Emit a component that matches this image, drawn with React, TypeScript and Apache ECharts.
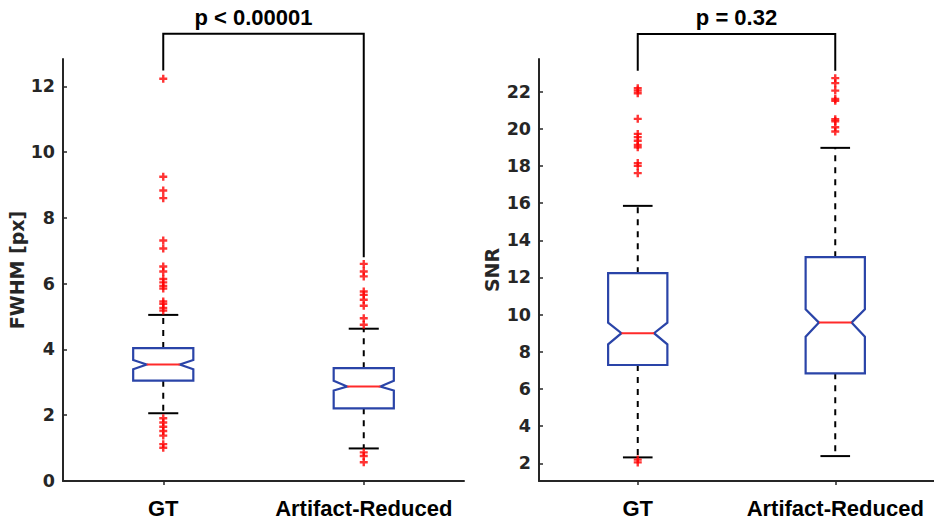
import React, { useEffect, useRef } from "react";
import * as echarts from "echarts";

const categories = ["GT", "Artifact-Reduced"];

// [lowerWhisker, q1, notchLow, median, notchHigh, q3, upperWhisker]
const fwhmBoxes = [
  [2.06, 3.05, 3.4, 3.54, 3.68, 4.04, 5.05],
  [0.99, 2.21, 2.75, 2.87, 3.05, 3.43, 4.63],
];
const snrBoxes = [
  [2.32, 7.29, 8.4, 9.0, 9.57, 12.23, 15.85],
  [2.39, 6.84, 8.81, 9.57, 10.29, 13.09, 18.97],
];

const fwhmOutliersGT = [12.23, 9.25, 8.83, 8.6, 7.31, 7.07, 6.52, 6.37, 6.14, 6.04, 5.93, 5.85, 5.46, 5.39, 5.26, 5.18, 1.91, 1.78, 1.65, 1.52, 1.38, 1.12, 1.01];
const fwhmOutliersAR = [6.6, 6.37, 6.22, 5.76, 5.66, 5.51, 5.33, 4.95, 4.75, 0.87, 0.76, 0.57];
const snrOutliersGT = [22.18, 22.05, 21.91, 20.53, 19.72, 19.55, 19.35, 19.13, 19.0, 18.15, 18.0, 17.61, 2.2, 2.05];
const snrOutliersAR = [22.72, 22.45, 22.05, 21.6, 21.5, 20.51, 20.4, 20.08, 19.85];

const fwhmTicks = [0, 2, 4, 6, 8, 10, 12];
const snrTicks = [2, 4, 6, 8, 10, 12, 14, 16, 18, 20, 22];

// bracket: [yTop, yLeftEnd, yRightEnd, textPosition(0..1 between categories)]
const fwhmBracket = [13.6, 12.48, 6.8, 0.45];
const snrBracket = [25.1, 23.12, 23.12, 0.5];
const fwhmPText = "p < 0.00001";
const snrPText = "p = 0.32";

const AXIS_COLOR = "#262626";
const BOX_COLOR = "#2a44a8";
const MED_COLOR = "#ff2a2a";
const PLUS = "path://M3.5,0L6.5,0L6.5,3.5L10,3.5L10,6.5L6.5,6.5L6.5,10L3.5,10L3.5,6.5L0,6.5L0,3.5L3.5,3.5Z";

function boxRender(params: any, api: any) {
  const x = api.value(0);
  const lw = api.value(1), q1 = api.value(2), nl = api.value(3), md = api.value(4), nh = api.value(5), q3 = api.value(6), uw = api.value(7);
  const band = api.size([1, 0])[0];
  const hw = band * 0.15;
  const cw = band * 0.075;
  const ind = hw * 0.45;
  const p = (v: number) => api.coord([x, v]);
  const cx = p(md)[0];
  const yLW = p(lw)[1], yQ1 = p(q1)[1], yNL = p(nl)[1], yMD = p(md)[1], yNH = p(nh)[1], yQ3 = p(q3)[1], yUW = p(uw)[1];
  const l = cx - hw, r = cx + hw;
  return {
    type: "group",
    children: [
      { type: "line", shape: { x1: cx, y1: yQ3, x2: cx, y2: yUW }, style: { stroke: "#000", lineWidth: 2, lineDash: [6, 6] } },
      { type: "line", shape: { x1: cx, y1: yQ1, x2: cx, y2: yLW }, style: { stroke: "#000", lineWidth: 2, lineDash: [6, 6] } },
      { type: "line", shape: { x1: cx - cw, y1: yUW, x2: cx + cw, y2: yUW }, style: { stroke: "#000", lineWidth: 2 } },
      { type: "line", shape: { x1: cx - cw, y1: yLW, x2: cx + cw, y2: yLW }, style: { stroke: "#000", lineWidth: 2 } },
      {
        type: "polygon",
        shape: {
          points: [
            [l, yQ3], [r, yQ3], [r, yNH], [r - ind, yMD], [r, yNL], [r, yQ1],
            [l, yQ1], [l, yNL], [l + ind, yMD], [l, yNH],
          ],
        },
        style: { fill: "#fff", stroke: BOX_COLOR, lineWidth: 2.2 },
      },
      { type: "line", shape: { x1: l + ind, y1: yMD, x2: r - ind, y2: yMD }, style: { stroke: MED_COLOR, lineWidth: 2 } },
    ],
  };
}

function bracketRender(text: string) {
  return (params: any, api: any) => {
    const yTop = api.value(0), yL = api.value(1), yR = api.value(2), tp = api.value(3);
    const a = api.coord([0, yTop]);
    const b = api.coord([1, yTop]);
    const aEnd = api.coord([0, yL]);
    const bEnd = api.coord([1, yR]);
    return {
      type: "group",
      children: [
        {
          type: "polyline",
          shape: { points: [[aEnd[0], aEnd[1]], [a[0], a[1]], [b[0], b[1]], [bEnd[0], bEnd[1]]] },
          style: { stroke: "#000", lineWidth: 2, fill: null },
        },
        {
          type: "text",
          x: a[0] + (b[0] - a[0]) * tp,
          y: a[1] - 5,
          style: {
            text,
            fill: "#000",
            font: "bold 22px 'Liberation Sans', Arial, sans-serif",
            align: "center",
            verticalAlign: "bottom",
          },
        },
      ],
    };
  };
}

function yAxisCfg(name: string, min: number, max: number, ticks: number[], gi: number, gap: number) {
  return {
    type: "value",
    gridIndex: gi,
    min,
    max,
    name,
    nameLocation: "middle",
    nameGap: gap,
    nameTextStyle: { fontFamily: "DejaVu Sans", fontWeight: "bold", fontSize: 19, color: AXIS_COLOR },
    axisLine: { show: true, lineStyle: { color: AXIS_COLOR, width: 2 } },
    axisTick: { show: true, inside: true, length: 4, customValues: ticks, lineStyle: { color: AXIS_COLOR, width: 1.5 } },
    axisLabel: { customValues: ticks, margin: 8, fontFamily: "DejaVu Sans", fontWeight: "bold", fontSize: 17.5, color: AXIS_COLOR },
    splitLine: { show: false },
  };
}

function xAxisCfg(gi: number) {
  return {
    type: "category",
    gridIndex: gi,
    data: categories,
    boundaryGap: true,
    axisLine: { show: true, lineStyle: { color: AXIS_COLOR, width: 2 } },
    axisTick: { show: true, alignWithLabel: true, length: 4, lineStyle: { color: AXIS_COLOR, width: 1.5 } },
    axisLabel: { margin: 16, fontFamily: "'Liberation Sans', Arial, sans-serif", fontWeight: "bold", fontSize: 22, color: "#000", interval: 0 },
    splitLine: { show: false },
  };
}

export default function App() {
  const ref = useRef<HTMLDivElement>(null);
  useEffect(() => {
    if (!ref.current) return;
    const chart = echarts.init(ref.current, null, { renderer: "svg" });
    const outlierSeries = (gi: number, cat: number, vals: number[]) => ({
      type: "scatter",
      xAxisIndex: gi,
      yAxisIndex: gi,
      symbol: PLUS,
      symbolSize: 8,
      itemStyle: { color: "#ff0000" },
      data: vals.map((v) => [cat, v]),
      z: 5,
    });
    chart.setOption({
      animation: false,
      backgroundColor: "#fff",
      grid: [
        { left: 63, top: 59, width: 401, height: 422 },
        { left: 539, top: 59, width: 400, height: 422 },
      ],
      xAxis: [xAxisCfg(0), xAxisCfg(1)],
      yAxis: [
        yAxisCfg("FWHM [px]", 0, 12.83, fwhmTicks, 0, 36),
        yAxisCfg("SNR", 1.05, 23.75, snrTicks, 1, 38),
      ],
      series: [
        {
          type: "custom",
          xAxisIndex: 0,
          yAxisIndex: 0,
          renderItem: boxRender,
          data: fwhmBoxes.map((b, i) => [i, ...b]),
          clip: false,
        },
        {
          type: "custom",
          xAxisIndex: 1,
          yAxisIndex: 1,
          renderItem: boxRender,
          data: snrBoxes.map((b, i) => [i, ...b]),
          clip: false,
        },
        outlierSeries(0, 0, fwhmOutliersGT),
        outlierSeries(0, 1, fwhmOutliersAR),
        outlierSeries(1, 0, snrOutliersGT),
        outlierSeries(1, 1, snrOutliersAR),
        {
          type: "custom",
          xAxisIndex: 0,
          yAxisIndex: 0,
          renderItem: bracketRender(fwhmPText),
          data: [fwhmBracket],
          clip: false,
          silent: true,
        },
        {
          type: "custom",
          xAxisIndex: 1,
          yAxisIndex: 1,
          renderItem: bracketRender(snrPText),
          data: [snrBracket],
          clip: false,
          silent: true,
        },
      ],
    });
    return () => chart.dispose();
  }, []);
  return <div ref={ref} style={{ width: 934, height: 519, position: "fixed", left: 0, top: 0 }} />;
}
